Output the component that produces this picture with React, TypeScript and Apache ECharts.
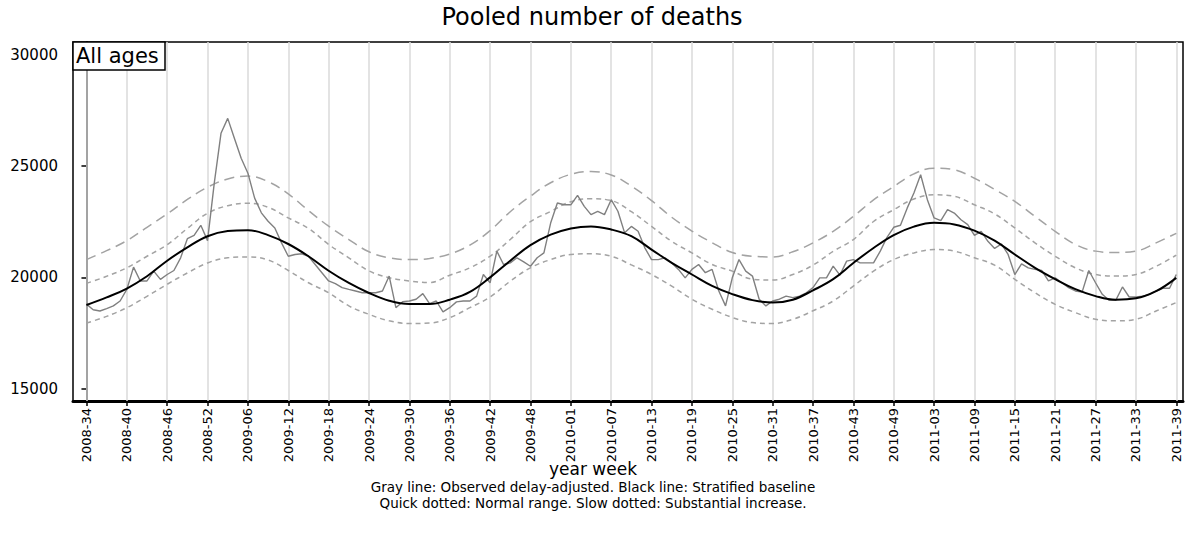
import React, { useEffect, useRef } from "react";
import * as echarts from "echarts";

// Week index 0 = 2008-34 ... 162 = 2011-39; labels every 6 weeks
const tickLabels = [
  "2008-34", "2008-40", "2008-46", "2008-52", "2009-06", "2009-12", "2009-18",
  "2009-24", "2009-30", "2009-36", "2009-42", "2009-48", "2010-01", "2010-07",
  "2010-13", "2010-19", "2010-25", "2010-31", "2010-37", "2010-43", "2010-49",
  "2011-03", "2011-09", "2011-15", "2011-21", "2011-27", "2011-33", "2011-39",
];
const tickWeeks = [
  0, 6, 12, 18, 24, 30, 36, 42, 48, 54, 60, 66, 72, 78,
  84, 90, 96, 102, 108, 114, 120, 126, 132, 138, 144, 150, 156, 162,
];
const yTicks = [15000, 20000, 25000, 30000];

// Observed delay-adjusted weekly deaths (one value per week)
const observed = [
  18800, 18550, 18490, 18600, 18720, 18940, 19460, 20460, 19840, 19840,
  20280, 19910, 20130, 20310, 20880, 21740, 21890, 22340, 21650, 24230,
  26470, 27140, 26240, 25350, 24680, 23560, 22900, 22520, 22220, 21550,
  20950, 21030, 21060, 20950, 20580, 20210, 19840, 19720, 19540, 19460,
  19390, 19310, 19310, 19310, 19390, 20060, 18640, 18910, 18940, 19020,
  19270, 18820, 18940, 18450, 18640, 18900, 18940, 18940, 19160, 20130,
  19760, 21180, 20580, 20650, 20880, 20700, 20500, 20880, 21100, 22440,
  23340, 23260, 23260, 23680, 23190, 22820, 22970, 22820, 23490, 22970,
  22000, 22290, 22070, 21330, 20800, 20800, 20880, 20650, 20360, 19980,
  20360, 20580, 20210, 20360, 19390, 18720, 19980, 20800, 20280, 20060,
  19020, 18720, 18940, 19020, 19160, 19090, 19160, 19310, 19540, 19980,
  19980, 20510, 20100, 20730, 20800, 20650, 20650, 20650, 21180, 21800,
  22250, 22340, 23110, 23790, 24610, 23490, 22670, 22550, 23040, 22890,
  22590, 22370, 21890, 22070, 21620, 21300, 21500, 21030, 20130, 20610,
  20430, 20360, 20310, 19840, 19980, 19760, 19540, 19390, 19340, 20310,
  19760, 19240, 18970, 18970, 19570, 19120, 19120, 19160, 19240, 19390,
  19510, 19510, 20130,
];

// Smooth curves, read every 3 weeks (weeks 0, 3, 6, ... 162)
const baseline = [
  18760, 19100, 19500, 20050, 20750, 21350, 21850, 22080, 22120, 21900,
  21500, 20950, 20300, 19750, 19300, 18950, 18800, 18800, 19000, 19350,
  20000, 20750, 21450, 21920, 22200, 22290, 22150, 21850, 21250, 20650,
  20130, 19620, 19250, 18980, 18870, 19000, 19420, 19920, 20650, 21320,
  21900, 22280, 22450, 22380, 22100, 21650, 21030, 20430, 19920, 19470,
  19160, 19000, 19060, 19380, 19980,
];
const substantialUpper = [
  20800, 21200, 21650, 22250, 22850, 23500, 24050, 24420, 24550, 24300,
  23750, 23000, 22300, 21700, 21150, 20880, 20800, 20850, 21050, 21450,
  22100, 22950, 23650, 24250, 24630, 24750, 24600, 24100, 23450, 22700,
  22080, 21560, 21120, 20950, 20920, 21150, 21550, 22070, 22740, 23480,
  24080, 24650, 24900, 24830, 24450, 23950, 23410, 22740, 22070, 21480,
  21180, 21120, 21180, 21550, 21980,
];
const normalUpper = [
  19730, 20050, 20430, 20950, 21470, 22200, 22880, 23220, 23330, 23150,
  22670, 22200, 21480, 20880, 20290, 19990, 19840, 19770, 20100, 20430,
  20950, 21700, 22500, 22960, 23400, 23530, 23450, 22950, 22290, 21620,
  21100, 20580, 20280, 19920, 19880, 20130, 20550, 21170, 21700, 22510,
  23040, 23520, 23710, 23640, 23260, 22850, 22220, 21550, 20950, 20430,
  20130, 20060, 20130, 20500, 21000,
];
const normalLower = [
  17950, 18250, 18640, 19150, 19690, 20200, 20650, 20880, 20920, 20780,
  20310, 19760, 19310, 18720, 18340, 18050, 17930, 17950, 18190, 18640,
  19120, 19830, 20430, 20800, 21030, 21060, 20950, 20560, 20130, 19610,
  19020, 18570, 18200, 17970, 17930, 18120, 18500, 18940, 19610, 20280,
  20800, 21100, 21250, 21180, 20880, 20550, 19910, 19310, 18790, 18420,
  18120, 18050, 18120, 18490, 18870,
];

const FONT = "DejaVu Sans";

export default function App() {
  const ref = useRef<HTMLDivElement>(null);
  useEffect(() => {
    if (!ref.current) return;
    const chart = echarts.init(ref.current, null, { renderer: "svg" });
    const curve = (arr: number[]) => arr.map((v, i) => [i * 3, v]);
    const dashGray = "#a3a3a3";
    const option: any = {
      animation: false,
      backgroundColor: "#ffffff",
      grid: {
        left: 73,
        right: 2,
        top: 42,
        bottom: 148,
        show: true,
        borderColor: "#000",
        borderWidth: 1.5,
        backgroundColor: "transparent",
      },
      xAxis: {
        type: "value",
        min: -2,
        max: 163,
        axisLine: { show: true, lineStyle: { color: "#000", width: 3 } },
        axisTick: {
          show: true,
          customValues: tickWeeks,
          length: 5,
          lineStyle: { color: "#000", width: 1.5 },
        },
        axisLabel: {
          show: true,
          customValues: tickWeeks,
          rotate: 90,
          margin: 7,
          color: "#000",
          fontFamily: FONT,
          fontSize: 13,
          formatter: (v: number) => tickLabels[tickWeeks.indexOf(Math.round(v))] ?? "",
        },
        splitLine: { show: false },
      },
      yAxis: {
        type: "value",
        min: 14450,
        max: 30570,
        axisLine: { show: true, lineStyle: { color: "#000", width: 2 } },
        axisTick: {
          show: true,
          customValues: yTicks,
          length: 5,
          lineStyle: { color: "#000", width: 1.5 },
        },
        axisLabel: {
          show: true,
          customValues: yTicks,
          margin: 15,
          color: "#000",
          fontFamily: FONT,
          fontSize: 15,
          formatter: (v: number) => String(Math.round(v)),
        },
        splitLine: { show: false },
      },
      graphic: [
        {
          type: "text",
          x: 592,
          y: 17,
          style: {
            text: "Pooled number of deaths",
            font: `24px "${FONT}"`,
            fill: "#000",
            textAlign: "center",
            textVerticalAlign: "middle",
          },
        },
        {
          type: "rect",
          shape: { x: 73, y: 42, width: 92, height: 28 },
          style: { fill: "#fff", stroke: "#000", lineWidth: 1.5 },
          z: 100,
        },
        {
          type: "text",
          x: 76,
          y: 56,
          z: 101,
          style: {
            text: "All ages",
            font: `21px "${FONT}"`,
            fill: "#000",
            textAlign: "left",
            textVerticalAlign: "middle",
          },
        },
        {
          type: "text",
          x: 593,
          y: 469,
          style: {
            text: "year week",
            font: `17px "${FONT}"`,
            fill: "#000",
            textAlign: "center",
            textVerticalAlign: "middle",
          },
        },
        {
          type: "text",
          x: 593,
          y: 487,
          style: {
            text: "Gray line: Observed delay-adjusted. Black line: Stratified baseline",
            font: `13.5px "${FONT}"`,
            fill: "#000",
            textAlign: "center",
            textVerticalAlign: "middle",
          },
        },
        {
          type: "text",
          x: 593,
          y: 503,
          style: {
            text: "Quick dotted: Normal range. Slow dotted: Substantial increase.",
            font: `13.5px "${FONT}"`,
            fill: "#000",
            textAlign: "center",
            textVerticalAlign: "middle",
          },
        },
      ],
      series: [
        {
          name: "grid",
          type: "line",
          z: 1,
          data: curve(baseline),
          showSymbol: false,
          lineStyle: { opacity: 0 },
          silent: true,
          markLine: {
            silent: true,
            z: 1,
            symbol: ["none", "none"],
            label: { show: false },
            lineStyle: { color: "#dadada", width: 1.5, type: "solid" },
            data: tickWeeks.map((w) => ({ xAxis: w })),
          },
        },
        {
          name: "Normal lower",
          type: "line",
          z: 3,
          smooth: 0.4,
          showSymbol: false,
          data: curve(normalLower),
          lineStyle: { color: dashGray, width: 1.5, type: [5, 4] },
        },
        {
          name: "Normal upper",
          type: "line",
          z: 3,
          smooth: 0.4,
          showSymbol: false,
          data: curve(normalUpper),
          lineStyle: { color: dashGray, width: 1.5, type: [5, 4] },
        },
        {
          name: "Substantial increase",
          type: "line",
          z: 3,
          smooth: 0.4,
          showSymbol: false,
          data: curve(substantialUpper),
          lineStyle: { color: dashGray, width: 1.5, type: [10, 6] },
        },
        {
          name: "Observed",
          type: "line",
          z: 4,
          showSymbol: false,
          data: observed.map((v, i) => [i, v]),
          lineStyle: { color: "#808080", width: 1.4 },
        },
        {
          name: "Baseline",
          type: "line",
          z: 5,
          smooth: 0.4,
          showSymbol: false,
          data: curve(baseline),
          lineStyle: { color: "#000", width: 2 },
        },
      ],
    };
    chart.setOption(option);
    return () => chart.dispose();
  }, []);
  return (
    <div
      ref={ref}
      style={{ position: "absolute", left: 0, top: 0, width: 1185, height: 549, background: "#fff" }}
    />
  );
}
